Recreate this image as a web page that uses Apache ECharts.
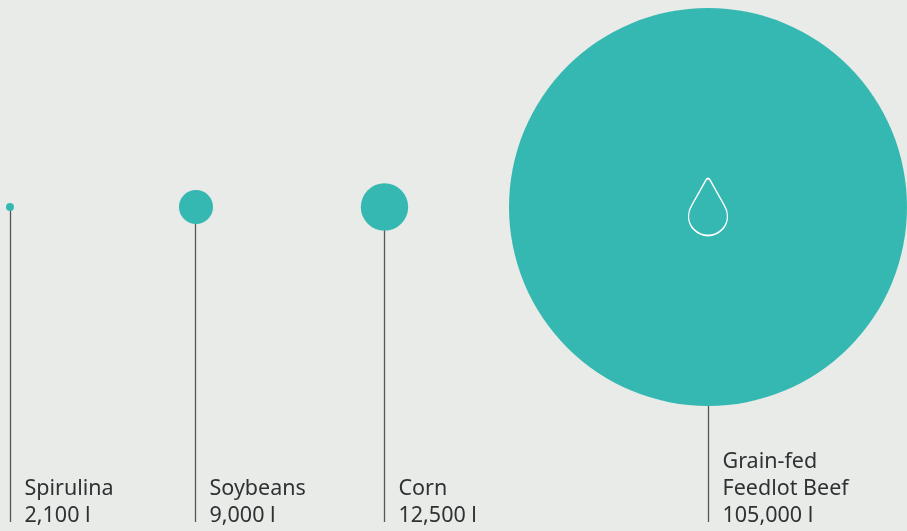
<!DOCTYPE html>
<html>
<head>
<meta charset="utf-8">
<style>html,body{margin:0;padding:0;background:#e9ebe8}#c{width:907px;height:531px}</style>
<script src="https://cdn.jsdelivr.net/npm/echarts@6/dist/echarts.min.js"></script>
</head>
<body>
<div id="c"></div>
<script>
const categories = ["Spirulina", "Soybeans", "Corn", "Grain-fed\nFeedlot Beef"];
const litres = [2100, 9000, 12500, 105000];
const valueLabels = ["2,100 l", "9,000 l", "12,500 l", "105,000 l"];
const columnX = [10.5, 195.5, 384.5, 708.5];
const circleX = [10, 196, 384.5, 708];
const circleY = 207;
const stemBottom = 522;
const labelOffset = 14;
const maxDiameter = 398;
const maxLitres = 105000;

const chart = echarts.init(document.getElementById('c'), null, {renderer: 'canvas'});
const dropPath = 'path://M20 1 C21 1 21.6 1.6 22 2.3 L36.5 27 C38.6 30.4 40 34.2 40 38 C40 48.5 31 57 20 57 C9 57 0 48.5 0 38 C0 34.2 1.4 30.4 3.5 27 L18 2.3 C18.4 1.6 19 1 20 1 Z';

chart.setOption({
  animation: false,
  backgroundColor: '#e9ebe8',
  grid: {left: 0, right: 0, top: 0, bottom: 0},
  xAxis: {type: 'value', min: 0, max: 907, show: false},
  yAxis: {type: 'value', min: 0, max: 531, inverse: true, show: false},
  series: [
    {
      type: 'custom',
      silent: true,
      z: 1,
      data: columnX.map(x => [x, circleY, stemBottom]),
      renderItem: (p, api) => {
        const a = api.coord([api.value(0), api.value(1)]);
        const b = api.coord([api.value(0), api.value(2)]);
        return {type: 'line', shape: {x1: a[0], y1: a[1], x2: b[0], y2: b[1]},
                style: {stroke: '#555', lineWidth: 1.3}};
      }
    },
    {
      type: 'scatter',
      silent: true,
      z: 2,
      data: litres.map((v, i) => [circleX[i], circleY, v]),
      symbol: 'circle',
      symbolSize: d => d[2] / maxLitres * maxDiameter,
      itemStyle: {color: '#36b8b2', opacity: 1}
    },
    {
      type: 'scatter',
      silent: true,
      z: 3,
      data: [[circleX[3], circleY]],
      symbol: dropPath,
      symbolSize: [39, 57],
      itemStyle: {color: 'rgba(0,0,0,0)', borderColor: '#fff', borderWidth: 1.5, opacity: 1}
    },
    {
      type: 'custom',
      silent: true,
      z: 4,
      data: columnX.map((x, i) => [x, stemBottom, i]),
      renderItem: (p, api) => {
        const i = api.value(2);
        const a = api.coord([api.value(0), api.value(1)]);
        return {type: 'text', x: a[0] + labelOffset, y: a[1] + 7,
                style: {text: categories[i] + '\n' + valueLabels[i], fill: '#2f3133',
                        font: '21.5px "Noto Sans"', lineHeight: 27,
                        textAlign: 'left', textVerticalAlign: 'bottom'}};
      }
    }
  ]
});
</script>
</body>
</html>
